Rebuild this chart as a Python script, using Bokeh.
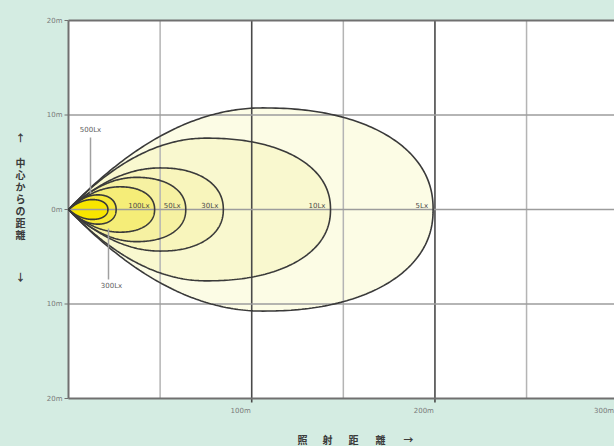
import numpy as np
from bokeh.plotting import figure
from bokeh.models import ColumnDataSource, LabelSet
from bokeh.core.properties import value
from bokeh.embed import file_html
from bokeh.resources import INLINE

# ---------------- data ----------------
lux_labels = ["5Lx", "10Lx", "30Lx", "50Lx", "100Lx", "300Lx", "500Lx"]
reach_m = [199, 143, 84.5, 64, 47, 26, 21.5]            # distance along beam where contour closes
half_width_m = [10.75, 7.55, 4.4, 3.4, 2.4, 1.55, 1.05]  # max lateral distance
peak_at_m = [106, 75, 50, 37, 28, 16, 13]               # where the max width occurs
fill_colors = ["#fcfce5", "#f9f8cf", "#f8f5bc", "#f6f1a2", "#f5ed78", "#f6e838", "#f8e600"]

x_grid_minor = [50, 150, 250]
x_grid_major = [100, 200]
y_grid = [-10, 0, 10]
x_tick_values = [100, 200, 300]
x_tick_labels = ["100m", "200m", "300m"]
y_tick_values = [-20, -10, 0, 10, 20]
y_tick_labels = ["20m", "10m", "0m", "10m", "20m"]
x_title_chars = ["照", "射", "距", "離", "→"]
y_title_chars = ["↑", "中", "心", "か", "ら", "の", "距", "離", "↓"]

X_MIN, X_MAX = 0, 298     # visible part of the distance axis (m)
Y_MIN, Y_MAX = -20, 20    # lateral axis (m)

BG = "#d4ece2"
JP = "Noto Sans CJK JP"
W_PX, H_PX = 614, 446
FRAME_L, FRAME_T, FRAME_B = 68, 20, 398   # where the plot box sits on the page (px)

SX = (W_PX - FRAME_L) / (X_MAX - X_MIN)
SY = (FRAME_B - FRAME_T) / (Y_MAX - Y_MIN)
Y0_PX = FRAME_T + Y_MAX * SY


def dx(px):  # page x (px) -> data x, for annotation layout only
    return X_MIN + (px - FRAME_L) / SX


def dy(py):  # page y (px) -> data y, for annotation layout only
    return (Y0_PX - py) / SY


p = figure(width=W_PX, height=H_PX,
           x_range=(dx(0), dx(W_PX)), y_range=(dy(H_PX), dy(0)),
           x_axis_type=None, y_axis_type=None,
           output_backend="svg", toolbar_location=None,
           min_border=0, min_border_left=0, min_border_right=0,
           min_border_top=0, min_border_bottom=0,
           background_fill_color=BG, border_fill_color=BG, outline_line_color=None)

# white plot box
p.quad(left=[X_MIN], right=[X_MAX], bottom=[Y_MIN], top=[Y_MAX],
       fill_color="white", line_color=None)


def outline(L, W, P, n=2.2, k=2.0, m=80):
    xb = np.linspace(0, P, m)
    yb = W * (1 - (1 - xb / P) ** k)
    t = np.linspace(np.pi / 2, 0, m)
    xf = P + (L - P) * np.cos(t) ** (2 / n)
    yf = W * np.sin(t) ** (2 / n)
    xu = np.concatenate([xb, xf[1:]])
    yu = np.concatenate([yb, yf[1:]])
    xs = np.concatenate([xu, xu[::-1][1:]])
    ys = np.concatenate([yu, -yu[::-1][1:]])
    return xs, ys


shapes = [outline(L, W, P) for L, W, P in zip(reach_m, half_width_m, peak_at_m)]

for (xs, ys), c in zip(shapes, fill_colors):
    p.patch(xs, ys, fill_color=c, line_color=None)

# grid lines (over the fills)
tick_len = 4 / SY
p.segment(x0=x_grid_minor, x1=x_grid_minor, y0=[Y_MIN] * 3, y1=[Y_MAX] * 3,
          line_color="#b4b4b4", line_width=1.5, level="guide")
p.segment(x0=x_grid_major, x1=x_grid_major, y0=[Y_MIN - tick_len] * 2, y1=[Y_MAX] * 2,
          line_color="#4a4a4a", line_width=1.6, level="guide")
p.segment(x0=[X_MIN] * 3, x1=[X_MAX] * 3, y0=y_grid, y1=y_grid,
          line_color="#9c9c9c", line_width=1.3, level="guide")
# frame border and y ticks
p.segment(x0=[X_MIN, X_MIN, X_MIN], x1=[X_MIN, X_MAX, X_MAX],
          y0=[Y_MIN, Y_MIN, Y_MAX], y1=[Y_MAX, Y_MIN, Y_MAX],
          line_color="#707070", line_width=2, level="guide")
p.segment(x0=[X_MIN - 4 / SX] * 5, x1=[X_MIN] * 5, y0=y_tick_values, y1=y_tick_values,
          line_color="#707070", line_width=1, level="guide")

# contour outlines
for xs, ys in shapes:
    p.line(xs, ys, line_color="#3a3a3a", line_width=1.6, level="annotation")

# tick labels
yt = ColumnDataSource(dict(x=[X_MIN] * 5, y=y_tick_values, t=y_tick_labels))
p.add_layout(LabelSet(x="x", y="y", text="t", source=yt, x_offset=-6,
                      text_align="right", text_baseline="middle",
                      text_font_size="7px", text_color="#7a7a7a",
                      text_font=value("DejaVu Sans"), level="overlay"))
xt = ColumnDataSource(dict(x=x_tick_values, y=[dy(410)] * 3, t=x_tick_labels,
                           off=[-1, -1, -4]))
p.add_layout(LabelSet(x="x", y="y", text="t", source=xt, x_offset="off",
                      text_align="right", text_baseline="middle",
                      text_font_size="7px", text_color="#7a7a7a",
                      text_font=value("DejaVu Sans"), level="overlay"))

# contour labels at the contour tips
lx = ColumnDataSource(dict(x=reach_m[:5], y=[0.35] * 5, t=lux_labels[:5]))
p.add_layout(LabelSet(x="x", y="y", text="t", source=lx, x_offset=-5,
                      text_align="right", text_baseline="middle",
                      text_font_size="7px", text_color="#4a4a4a",
                      text_font=value("DejaVu Sans"), level="overlay"))

# callouts for 500Lx and 300Lx
p.segment(x0=[dx(90), dx(108)], y0=[dy(137), dy(279)], x1=[dx(90), dx(108)], y1=[dy(193), dy(228)],
          line_color="#a0a0a0", line_width=1.5, level="annotation")
cl = ColumnDataSource(dict(x=[dx(90), dx(111)], y=[dy(129), dy(285)], t=[lux_labels[6], lux_labels[5]]))
p.add_layout(LabelSet(x="x", y="y", text="t", source=cl, text_align="center",
                      text_baseline="middle", text_font_size="7px", text_color="#606060",
                      text_font=value("DejaVu Sans"), level="overlay"))

# axis titles as spaced / stacked characters
x_px = [302, 327, 353, 380, 408]
xtitle = ColumnDataSource(dict(x=[dx(v) for v in x_px], y=[dy(439)] * len(x_title_chars),
                               t=x_title_chars))
p.add_layout(LabelSet(x="x", y="y", text="t", source=xtitle, text_align="center",
                      text_baseline="middle", text_font_size="10px", text_font_style="bold",
                      text_color="#3a3a3a", text_font=value(JP), level="overlay"))

y_px = [137, 162, 174, 186, 198, 210, 222, 234, 276]
ytitle = ColumnDataSource(dict(x=[dx(20)] * len(y_title_chars), y=[dy(v) for v in y_px],
                               t=y_title_chars))
p.add_layout(LabelSet(x="x", y="y", text="t", source=ytitle, text_align="center",
                      text_baseline="middle", text_font_size="10px", text_font_style="bold",
                      text_color="#3a3a3a", text_font=value(JP), level="overlay"))

html = file_html(p, INLINE, title="isolux")
html = html.replace("</head>",
                    "<style>html,body{background:%s;overflow:hidden;margin:0;}</style></head>" % BG, 1)
open("out.html", "w").write(html)
